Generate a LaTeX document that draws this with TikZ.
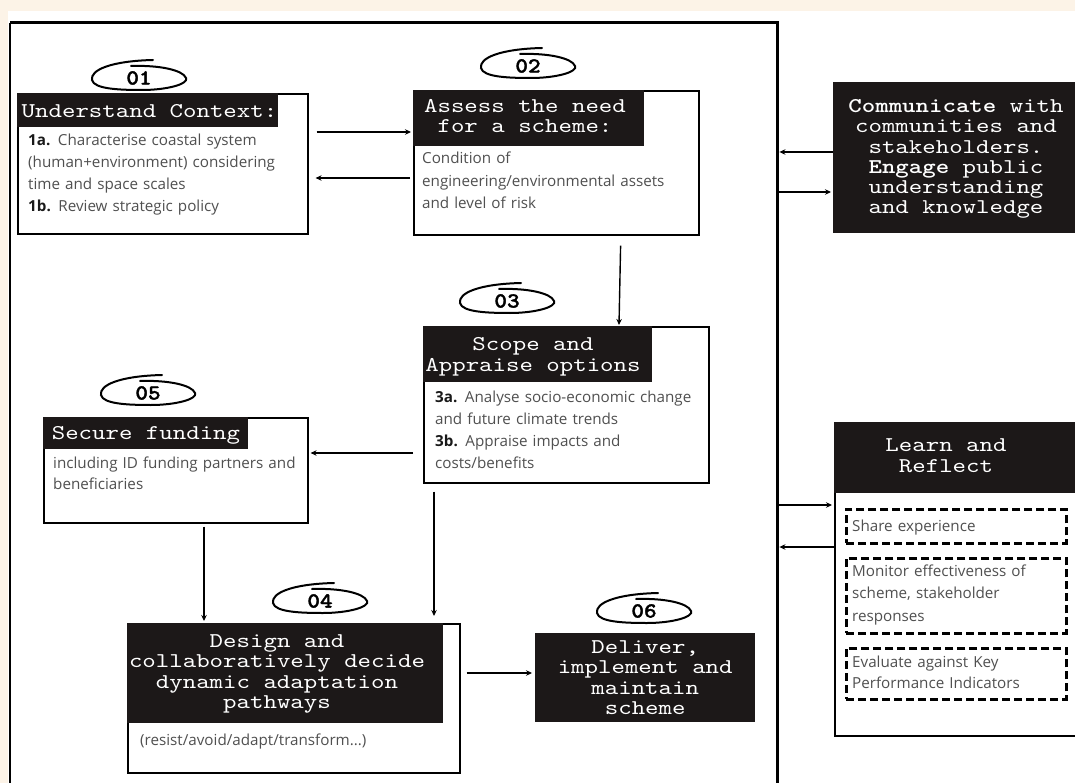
\documentclass[tikz,border=0pt]{standalone}
\usepackage{fontspec}
\setmainfont{Open Sans}
\newfontfamily\monof{lmmono10-regular.otf}[FakeStretch=1.22, BoldFont=lmmonolt10-bold.otf]
\newfontfamily\numf{lmmonolt10-bold.otf}[FakeStretch=1.12, FakeBold=1.6]
\usetikzlibrary{arrows.meta}
\definecolor{cream}{RGB}{252,243,231}
\definecolor{txtgray}{RGB}{80,80,80}
\definecolor{hdr}{RGB}{28,24,24}
\newcommand\numoval[4]{%
  \node[numtxt] (#1) at (#2,#3) {#4};
  \draw[ovalline] ({#2+14},{#3-18}) .. controls ({#2-28},{#3-17}) and ({#2-49},{#3-8}) .. ({#2-47},{#3+2})
    .. controls ({#2-45},{#3+11}) and ({#2-20},{#3+12}) .. ({#2+3},{#3+12})
    .. controls ({#2+28},{#3+12}) and ({#2+50},{#3+6}) .. ({#2+47},{#3})
    .. controls ({#2+44},{#3-8}) and ({#2+20},{#3-13}) .. ({#2-8},{#3-12});
}
\tikzset{
  box/.style={draw=black, line width=1.6pt, fill=white, anchor=north west, inner sep=0pt, rectangle},
  hdrbox/.style={fill=hdr, anchor=north west, inner sep=0pt, rectangle},
  ttl/.style={text=white, font=\monof\fontsize{21}{20.5}\selectfont, align=center, inner sep=0pt},
  bodytxt/.style={text=txtgray, font=\fontsize{15.2}{22}\selectfont, align=left, anchor=base west, inner sep=0pt, text width=#1},
  bodytxt/.default=300pt,
  numtxt/.style={font=\numf\fontsize{21.5}{21}\selectfont, inner sep=0pt},
  ovalline/.style={line width=2pt, line cap=round},
  arr/.style={-{Stealth[length=6pt,width=5.5pt]}, line width=1.4pt},
  dbox/.style={draw, dash pattern=on 8pt off 4pt, line width=2.6pt, anchor=north west, inner sep=0pt, rectangle},
}
\newcommand\bl[1]{\textcolor{black!90}{\textbf{#1}}}
\begin{document}
\begin{tikzpicture}[x=1pt,y=-1pt]
\useasboundingbox (0,0) rectangle (1075,783);
\clip (0,0) rectangle (1075,783);
\fill[cream] (0,0) rectangle (1075,783);
\fill[white] (8,11) rectangle (1075,783);
% frame
\node[anchor=north west, inner sep=0pt, minimum width=767pt, minimum height=790pt] (frame) at (10,23) {};
\draw[line width=2pt] (frame.south west) -- (frame.north west);
\draw[line width=3pt] (frame.north west) -- (frame.north east) -- (frame.south east);

% box 01
\node[box, minimum width=290pt, minimum height=140pt] (b1) at (17,93) {};
\node[hdrbox, minimum width=261pt, minimum height=34pt] (h1) at (17,93) {};
\node[ttl] (t1) at (149.5,111) {Understand Context:};
\node[bodytxt=280pt] (x1) at (28,146) {\bl{1a.} Characterise coastal system\\(human+environment) considering\\time and space scales\\\bl{1b.} Review strategic policy};
\numoval{o1}{139}{78}{01}

% box 02
\node[box, minimum width=285pt, minimum height=144pt] (b2) at (413,90) {};
\node[hdrbox, minimum width=231pt, minimum height=56pt] (h2) at (413,90) {};
\node[ttl] (t2) at (525,116) {Assess the need\\for a scheme:};
\node[bodytxt=275pt, font=\fontsize{15.2}{22.5}\selectfont] (x2) at (422,164) {Condition of\\engineering/environmental assets\\and level of risk};
\numoval{o2}{528}{66}{02}

% box 03
\node[box, minimum width=285pt, minimum height=156pt] (b3) at (423,326) {};
\node[hdrbox, minimum width=229pt, minimum height=56pt] (h3) at (423,326) {};
\node[ttl] (t3) at (533,357) {Scope and\\Appraise options};
\node[bodytxt=270pt] (x3) at (435,402) {\bl{3a.} Analyse socio-economic change\\and future climate trends\\\bl{3b.} Appraise impacts and\\costs/benefits};
\numoval{o3}{507}{301}{03}

% box 05
\node[box, minimum width=264pt, minimum height=105pt] (b5) at (43,417) {};
\node[hdrbox, minimum width=205pt, minimum height=32pt] (h5) at (43,417) {};
\node[ttl] (t5) at (146,435) {Secure funding};
\node[bodytxt=250pt, font=\fontsize{15.2}{21}\selectfont] (x5) at (53,468) {including ID funding partners and\\beneficiaries};
\numoval{o5}{148}{393}{05}

% box 04
\node[box, minimum width=332pt, minimum height=149pt] (b4) at (127,623) {};
\node[hdrbox, minimum width=316pt, minimum height=100pt] (h4) at (127,623) {};
\node[ttl] (t4) at (277,674) {Design and\\collaboratively decide\\dynamic adaptation\\pathways};
\node[bodytxt=300pt] (x4) at (140,745) {(resist/avoid/adapt/transform...)};
\numoval{o4}{320}{601}{04}

% box 06
\node[hdrbox, minimum width=220pt, minimum height=89pt, text=white, font=\monof\fontsize{21}{20.5}\selectfont, align=center] (b6) at (535,633) {Deliver,\\implement and\\maintain\\scheme};
\numoval{o6}{644}{611}{06}

% communicate
\node[hdrbox, minimum width=250pt, minimum height=151pt] (bc) at (833,82) {};
\node[ttl, font=\monof\fontsize{21}{20.2}\selectfont] (tc) at (956,159) {\textbf{Communicate} with\\communities and\\stakeholders.\\\textbf{Engage} public\\understanding\\and knowledge};

% learn and reflect
\node[box, minimum width=250pt, minimum height=313pt] (bl) at (834,422) {};
\node[hdrbox, minimum width=250pt, minimum height=71pt] (hl) at (834,422) {};
\node[ttl] (tl) at (946,455.5) {Learn and\\Reflect};
\node[dbox, minimum width=220pt, minimum height=34pt] (d1) at (845,508) {};
\node[dbox, minimum width=220pt, minimum height=75pt] (d2) at (845,557) {};
\node[dbox, minimum width=220pt, minimum height=51pt] (d3) at (845,647) {};
\node[bodytxt=210pt] (y1) at (852,531) {Share experience};
\node[bodytxt=210pt, font=\fontsize{15.2}{22.5}\selectfont] (y2) at (852,576) {Monitor effectiveness of\\scheme, stakeholder\\responses};
\node[bodytxt=210pt, font=\fontsize{15.2}{21}\selectfont] (y3) at (852,667) {Evaluate against Key\\Performance Indicators};

% connectors
\draw[arr] ([shift={(8pt,-39pt)}]b1.north east) -- ([shift={(-2pt,-42pt)}]b2.north west);
\draw[arr] ([shift={(-3pt,-88pt)}]b2.north west) -- ([shift={(7pt,-85pt)}]b1.north east);
\draw[arr] ([shift={(-79pt,-10pt)}]b2.south east) -- ([shift={(196pt,1pt)}]b3.north west);
\draw[arr] ([shift={(-10pt,-127pt)}]b3.north west) -- ([shift={(2pt,-36pt)}]b5.north east);
\draw[arr] ([shift={(161pt,-3pt)}]b5.south west) -- ([shift={(77pt,2pt)}]b4.north west);
\draw[arr] ([shift={(11pt,-8pt)}]b3.south west) -- ([shift={(307pt,7pt)}]b4.north west);
\draw[arr] ([shift={(6pt,-50pt)}]b4.north east) -- ([shift={(-3pt,-40pt)}]b6.north west);
\draw[arr] ([shift={(0pt,-70pt)}]bc.north west) -- ([shift={(2pt,-129pt)}]frame.north east);
\draw[arr] ([shift={(2pt,-169pt)}]frame.north east) -- ([shift={(-2pt,-110pt)}]bc.north west);
\draw[arr] ([shift={(2pt,-482pt)}]frame.north east) -- ([shift={(-2pt,-83pt)}]bl.north west);
\draw[arr] ([shift={(0pt,-125pt)}]bl.north west) -- ([shift={(2pt,-524pt)}]frame.north east);
\end{tikzpicture}
\end{document}
